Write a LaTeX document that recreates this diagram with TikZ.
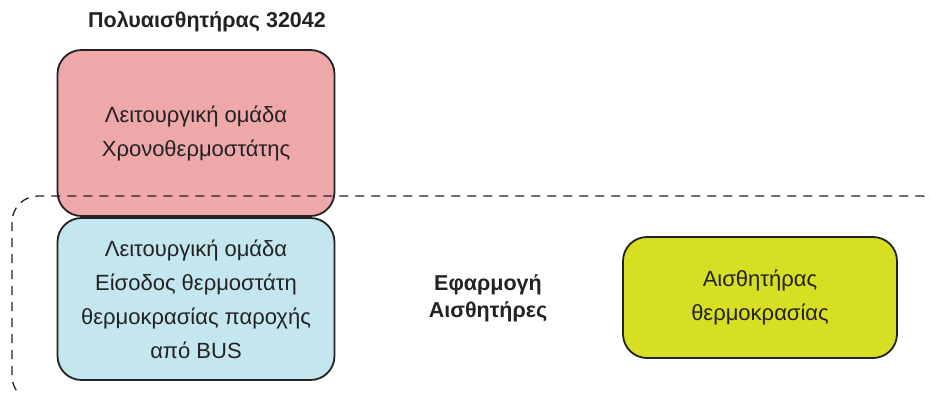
\documentclass[tikz,border=0pt]{standalone}
\usepackage{fontspec}
\setmainfont{Liberation Sans}
\usetikzlibrary{positioning}
\definecolor{groupred}{HTML}{EFA8A9}
\definecolor{groupblue}{HTML}{C4E6EF}
\definecolor{sensoryellow}{HTML}{D6DF22}
\definecolor{inkgray}{HTML}{222222}

\begin{document}
\begin{tikzpicture}[x=1pt, y=-1pt, line join=round,
    box/.style={draw=inkgray, line width=1.8pt, rounded corners=24pt, align=center, inner sep=0pt,
      text=inkgray, font=\fontsize{22}{34}\selectfont},
    title/.style={align=center, text=inkgray, font=\bfseries\fontsize{21.5}{27}\selectfont}]
  \useasboundingbox (0,0) rectangle (931,392);
  \clip (0,0) rectangle (931,392);
  % multisensor device and its functional groups
  \node[title] (dev) at (207,22) {Πολυαισθητήρας 32042};
  \node[box, fill=groupred, minimum width=277pt, minimum height=166pt] (thermo) at (196,133)
       {Λειτουργική ομάδα\\ Χρονοθερμοστάτης};
  \node[box, fill=groupblue, minimum width=277pt, minimum height=162pt] (input) at (196,299)
       {Λειτουργική ομάδα\\ Είσοδος θερμοστάτη\\ θερμοκρασίας παροχής\\ από BUS};
  % sensor application
  \node[title] (app) at (488,298) {Εφαρμογή\\ Αισθητήρες};
  \node[box, fill=sensoryellow, minimum width=274pt, minimum height=121pt] (temp) at (760,297.5)
       {Αισθητήρας\\ θερμοκρασίας};
  \draw[inkgray, line width=1.3pt, dash pattern=on 9pt off 7pt, rounded corners=26pt]
       (12,196) rectangle (948,402);
\end{tikzpicture}
\end{document}
